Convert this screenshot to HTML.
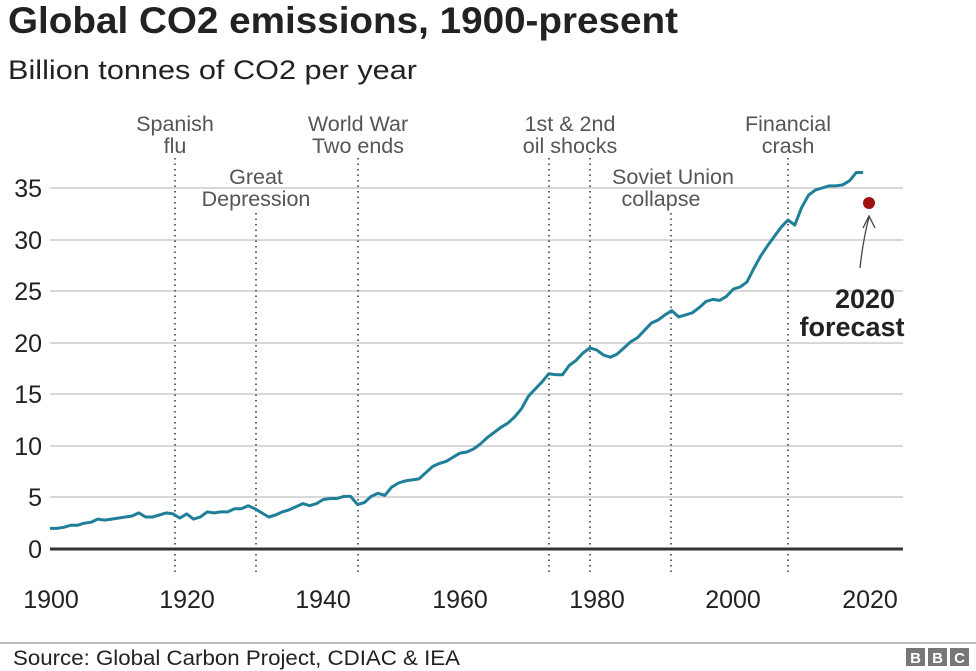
<!DOCTYPE html>
<html><head><meta charset="utf-8"><style>
html,body{margin:0;padding:0;background:#fff;}
svg{display:block;font-family:"Liberation Sans",Arial,sans-serif;}
</style></head><body>
<svg width="976" height="671" viewBox="0 0 976 671" xmlns="http://www.w3.org/2000/svg">
<text x="8" y="33" font-size="37" font-weight="bold" fill="#222" textLength="670" lengthAdjust="spacingAndGlyphs">Global CO2 emissions, 1900-present</text>
<text x="8" y="79" font-size="27" fill="#222" textLength="409" lengthAdjust="spacingAndGlyphs">Billion tonnes of CO2 per year</text>
<g stroke="#cccccc" stroke-width="1.5">
<line x1="50" x2="903" y1="188" y2="188"/><line x1="50" x2="903" y1="240" y2="240"/>
<line x1="50" x2="903" y1="291" y2="291"/><line x1="50" x2="903" y1="343" y2="343"/>
<line x1="50" x2="903" y1="394" y2="394"/><line x1="50" x2="903" y1="446" y2="446"/>
<line x1="50" x2="903" y1="497" y2="497"/>
</g>
<g font-size="25" fill="#222" text-anchor="end">
<text x="42" y="197">35</text><text x="42" y="249">30</text><text x="42" y="300">25</text>
<text x="42" y="352">20</text><text x="42" y="403">15</text><text x="42" y="455">10</text>
<text x="42" y="506">5</text><text x="42" y="558">0</text>
</g>
<g stroke="#333" stroke-width="1.5" stroke-dasharray="1.5,4">
<line x1="175" x2="175" y1="158" y2="572"/>
<line x1="256" x2="256" y1="213" y2="572"/>
<line x1="358" x2="358" y1="158" y2="572"/>
<line x1="549" x2="549" y1="158" y2="572"/>
<line x1="590" x2="590" y1="158" y2="572"/>
<line x1="671" x2="671" y1="213" y2="572"/>
<line x1="788" x2="788" y1="158" y2="572"/>
</g>
<g font-size="21.5" fill="#555" text-anchor="middle">
<text x="175" y="131">Spanish</text><text x="175" y="153">flu</text>
<text x="256" y="184">Great</text><text x="256" y="206">Depression</text>
<text x="358" y="131">World War</text><text x="358" y="153">Two ends</text>
<text x="570" y="131">1st &amp; 2nd</text><text x="570" y="153">oil shocks</text>
<text x="673" y="184">Soviet Union</text><text x="661" y="206">collapse</text>
<text x="788" y="131">Financial</text><text x="788" y="153">crash</text>
</g>
<line x1="50" x2="903" y1="549" y2="549" stroke="#333" stroke-width="3"/>
<path id="ln" fill="none" stroke="#1f7f99" stroke-width="3" stroke-linejoin="round"/>
<circle cx="869" cy="203" r="6" fill="#a01010"/>
<path d="M860 268 Q863 240 869 217" fill="none" stroke="#444" stroke-width="1.3"/>
<path d="M863 228 L869 216 L875 228" fill="none" stroke="#444" stroke-width="1.3"/>
<g font-size="27" font-weight="bold" fill="#222" text-anchor="middle">
<text x="865" y="308">2020</text><text x="852" y="336">forecast</text>
</g>
<g font-size="25" fill="#222" text-anchor="middle">
<text x="51" y="608">1900</text><text x="187" y="608">1920</text><text x="323" y="608">1940</text>
<text x="460" y="608">1960</text><text x="597" y="608">1980</text><text x="733" y="608">2000</text><text x="870" y="608">2020</text>
</g>
<line x1="0" x2="976" y1="643" y2="643" stroke="#bbb" stroke-width="2"/>
<text x="13" y="665" font-size="21" fill="#222" textLength="447" lengthAdjust="spacingAndGlyphs">Source:  Global Carbon Project, CDIAC &amp; IEA</text>
<g fill="#777"><rect x="906" y="648" width="19" height="18"/><rect x="928" y="648" width="19" height="18"/><rect x="950" y="648" width="19" height="18"/></g>
<g font-size="15" font-weight="bold" fill="#fff" text-anchor="middle">
<text x="915.5" y="663">B</text><text x="937.5" y="663">B</text><text x="959.5" y="663">C</text>
</g>
</svg>
<script>
var v=[2.0,2.0,2.1,2.3,2.3,2.5,2.6,2.9,2.8,2.9,3.0,3.1,3.2,3.5,3.1,3.1,3.3,3.5,3.4,3.0,3.4,2.9,3.1,3.6,3.5,3.6,3.6,3.9,3.9,4.2,3.9,3.5,3.1,3.3,3.6,3.8,4.1,4.4,4.2,4.4,4.8,4.9,4.9,5.1,5.1,4.3,4.5,5.1,5.4,5.2,6.0,6.4,6.6,6.7,6.8,7.4,8.0,8.3,8.5,8.9,9.3,9.4,9.7,10.2,10.8,11.3,11.8,12.2,12.8,13.6,14.8,15.5,16.2,17.0,16.9,16.9,17.8,18.3,19.0,19.5,19.3,18.8,18.6,18.9,19.5,20.1,20.5,21.2,21.9,22.2,22.7,23.1,22.5,22.7,22.9,23.4,24.0,24.2,24.1,24.5,25.2,25.4,25.9,27.2,28.4,29.4,30.3,31.2,31.9,31.4,33.1,34.3,34.8,35.0,35.2,35.2,35.3,35.7,36.5,36.5];
var d="";for(var i=0;i<v.length;i++){var x=50+i*6.833,y=549-v[i]*10.314;d+=(i?"L":"M")+x.toFixed(1)+" "+y.toFixed(1);}
document.getElementById("ln").setAttribute("d",d);
</script>
</body></html>
